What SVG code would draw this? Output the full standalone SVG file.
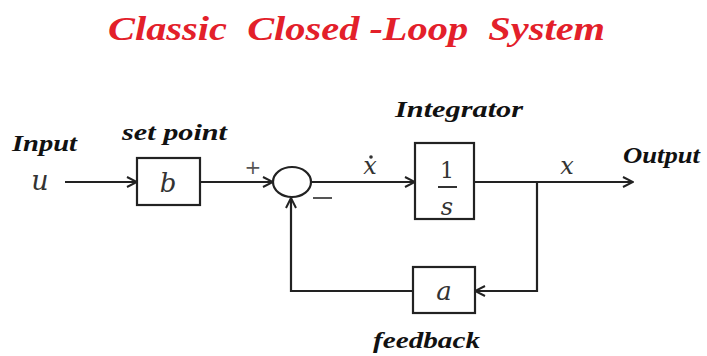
<svg xmlns="http://www.w3.org/2000/svg" width="707" height="356" viewBox="0 0 707 356">
<defs>
<marker id="arr" viewBox="0 0 12 12" refX="11" refY="6" markerWidth="12" markerHeight="12" markerUnits="userSpaceOnUse" orient="auto">
<path d="M1,1 L11,6 L1,11" fill="none" stroke="#222" stroke-width="2"/>
</marker>
</defs>
<style>
.ln{fill:none;stroke:#222;stroke-width:2.2}
.bx{fill:#fff;stroke:#222;stroke-width:2.2}
.lbl{font-family:"Liberation Serif","DejaVu Serif",serif;font-weight:bold;font-style:italic;fill:#111;font-size:24px}
.math{font-family:"DejaVu Serif","Liberation Serif",serif;font-style:italic;fill:#333}
.title{font-family:"Liberation Serif","DejaVu Serif",serif;font-weight:bold;font-style:italic;fill:#e3202a;font-size:33px;white-space:pre}
</style>
<rect width="707" height="356" fill="#fff"/>
<text class="title" x="108" y="40" textLength="497" lengthAdjust="spacingAndGlyphs" xml:space="preserve">Classic  Closed -Loop  System</text>
<g id="connectors">
<line class="ln" x1="65" y1="182" x2="137" y2="182" marker-end="url(#arr)"/>
<line class="ln" x1="200" y1="182" x2="273" y2="182" marker-end="url(#arr)"/>
<line class="ln" x1="311" y1="182" x2="415" y2="182" marker-end="url(#arr)"/>
<line class="ln" x1="474" y1="182" x2="633" y2="182" marker-end="url(#arr)"/>
<polyline class="ln" points="537,182 537,291 475,291" marker-end="url(#arr)"/>
<polyline class="ln" points="413,291 291,291 291,198" marker-end="url(#arr)"/>
</g>
<g id="input">
<text class="lbl" x="12" y="151" textLength="65" lengthAdjust="spacingAndGlyphs">Input</text>
<text class="math" x="40" y="190" font-size="27" text-anchor="middle">u</text>
</g>
<g id="setpoint">
<text class="lbl" x="122" y="140" textLength="105" lengthAdjust="spacingAndGlyphs">set point</text>
<rect class="bx" x="137" y="158" width="63" height="47"/>
<text class="math" x="168" y="192" font-size="26" text-anchor="middle">b</text>
</g>
<g id="sum">
<ellipse class="bx" cx="292" cy="182" rx="19" ry="15"/>
<text x="253" y="174" font-family="DejaVu Sans,sans-serif" font-size="20" fill="#555" text-anchor="middle">+</text>
<line x1="313" y1="198" x2="332" y2="198" stroke="#555" stroke-width="2"/>
</g>
<g id="integrator">
<text class="lbl" x="395" y="117" textLength="128" lengthAdjust="spacingAndGlyphs">Integrator</text>
<rect class="bx" x="415" y="143" width="59" height="76"/>
<text x="447" y="178" font-family="DejaVu Serif,serif" font-size="22" fill="#333" text-anchor="middle">1</text>
<line x1="438" y1="187" x2="457" y2="187" stroke="#333" stroke-width="2"/>
<text class="math" x="447" y="215" font-size="24" text-anchor="middle">s</text>
<text class="math" x="370" y="174" font-size="24" text-anchor="middle">x</text>
<circle cx="371" cy="157" r="1.8" fill="#333"/>
</g>
<g id="output">
<text class="math" x="567" y="174" font-size="24" text-anchor="middle">x</text>
<text class="lbl" x="623" y="163" textLength="77" lengthAdjust="spacingAndGlyphs">Output</text>
</g>
<g id="feedback">
<rect class="bx" x="413" y="267" width="62" height="46"/>
<text class="math" x="444" y="300" font-size="26" text-anchor="middle">a</text>
<text class="lbl" x="373" y="348" textLength="107" lengthAdjust="spacingAndGlyphs">feedback</text>
</g>
</svg>
